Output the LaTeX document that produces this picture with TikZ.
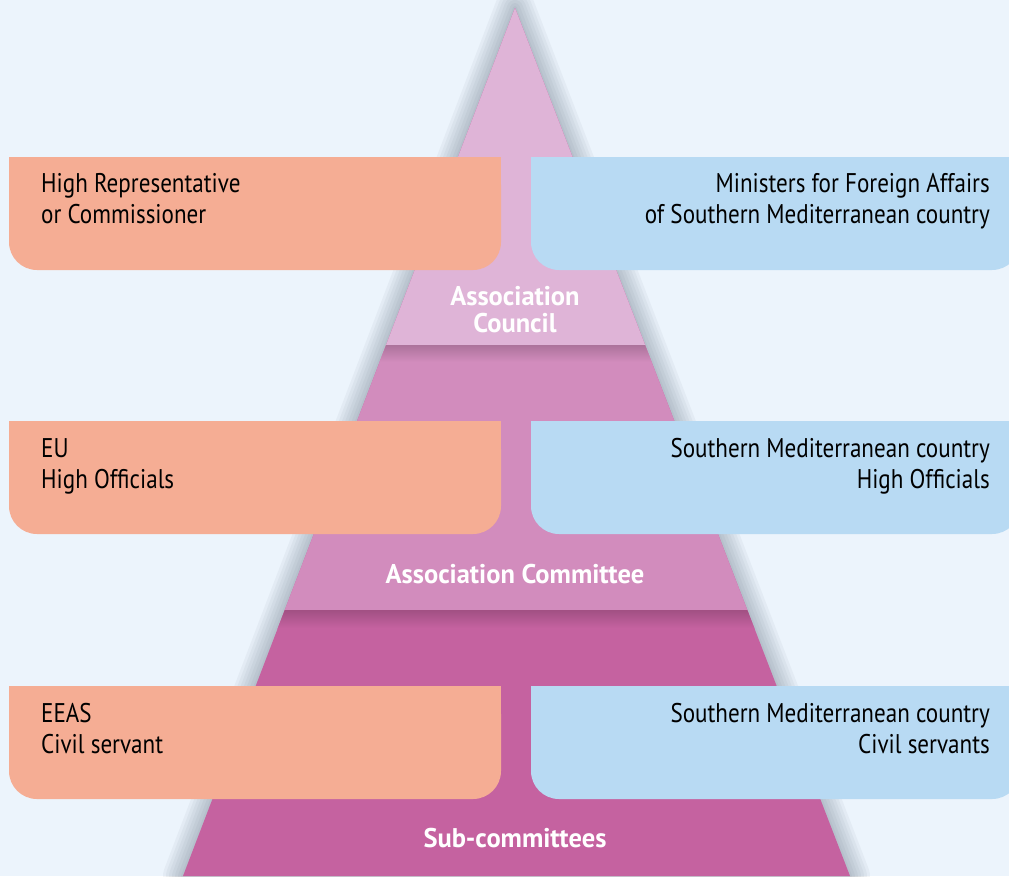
\documentclass[tikz,border=0pt]{standalone}
\usepackage{fontspec}
\setmainfont{PT Sans}[FakeStretch=0.855]
\newfontfamily\tierfont{PT Sans}[FakeStretch=0.98]
\usetikzlibrary{calc,positioning}
\definecolor{bgblue}{HTML}{ECF4FC}
\definecolor{eusalmon}{HTML}{F5AD94}
\definecolor{partnerblue}{HTML}{B8DAF3}
\definecolor{tierone}{HTML}{DFB4D7}
\definecolor{tiertwo}{HTML}{D28CBD}
\definecolor{tierthree}{HTML}{C562A0}
\definecolor{glow}{HTML}{4E5E6E}

\begin{document}
\begin{tikzpicture}[x=1pt,y=-1pt,
  lefttxt/.style={anchor=north west,align=left,inner sep=0pt,font=\fontsize{27}{31}\selectfont},
  righttxt/.style={anchor=north east,align=right,inner sep=0pt,font=\fontsize{27}{31}\selectfont},
  tiertxt/.style={text=white,align=center,inner sep=0pt,font=\tierfont\bfseries\fontsize{27}{27}\selectfont}]
\useasboundingbox (0,0) rectangle (1009,876);
\clip (0,0) rectangle (1009,876);
\fill[bgblue] (0,0) rectangle (1009,876);
% pyramid with soft shadow
\coordinate (apex) at (515,8);
\coordinate (bl) at (183,876);
\coordinate (br) at (850,876);
\foreach \w in {40,34,...,4}
  \draw[glow,opacity=0.055,line width=\w,line join=round] (apex) -- (br) -- (bl) -- cycle;
\fill[tierthree] (apex) -- (br) -- (bl) -- cycle;
\fill[tiertwo] (apex) -- ($(apex)!0.6935!(br)$) -- ($(apex)!0.6935!(bl)$) -- cycle;
\fill[tierone] (apex) -- ($(apex)!0.3882!(br)$) -- ($(apex)!0.3882!(bl)$) -- cycle;
\begin{scope}
  \clip (apex) -- (br) -- (bl) -- cycle;
  \shade[top color=tiertwo!82!black,bottom color=tiertwo] (0,345) rectangle (1009,362);
  \shade[top color=tierthree!82!black,bottom color=tierthree] (0,610) rectangle (1009,628);
\end{scope}
% boxes
\foreach \t in {157,421,686}{
  \fill[eusalmon,rounded corners=28] (9,\t) rectangle (501,\t+113);
  \fill[eusalmon] (9,\t) rectangle (501,\t+50);
  \fill[partnerblue,rounded corners=28] (531,\t) rectangle (1020,\t+113);
  \fill[partnerblue] (531,\t) rectangle (1020,\t+50);
}
\node[lefttxt] (hrep) at (41,173) {High Representative\\or Commissioner};
\node[righttxt] (ministers) at (990,173) {Ministers for Foreign Affairs\\of Southern Mediterranean country};
\node[lefttxt] (euoff) at (41,438) {EU\\High Officials};
\node[righttxt] (smoff) at (990,438) {Southern Mediterranean country\\High Officials};
\node[lefttxt] (eeas) at (41,703) {EEAS\\Civil servant};
\node[righttxt] (smcivil) at (990,703) {Southern Mediterranean country\\Civil servants};
\node[tiertxt] (council) at (515,310) {Association\\Council};
\node[tiertxt] (committee) at (515,574) {Association Committee};
\node[tiertxt] (subcom) at (515,838) {Sub-committees};
\end{tikzpicture}
\end{document}
